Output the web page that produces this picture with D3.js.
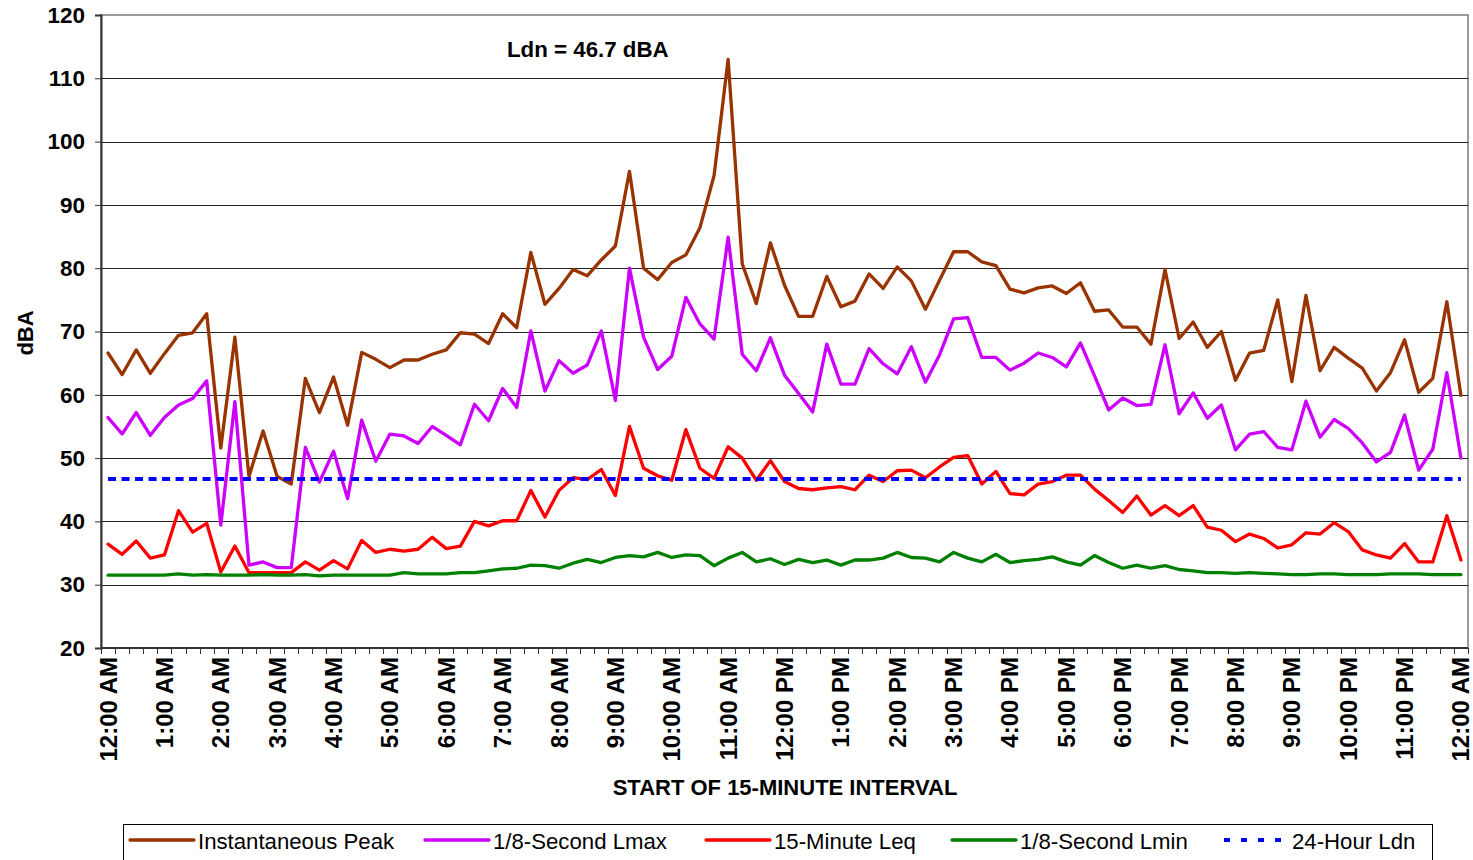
<!DOCTYPE html>
<html><head><meta charset="utf-8">
<script src="https://cdn.jsdelivr.net/npm/d3@7"></script>
<style>
body{margin:0;background:#fff}
svg{display:block;font-family:"Liberation Sans",Arial,sans-serif}
</style>
</head><body>
<svg id="c" width="1473" height="860"></svg>
<script>
// ---------------- DATA ----------------
const hourLabels = ["12:00 AM","1:00 AM","2:00 AM","3:00 AM","4:00 AM","5:00 AM","6:00 AM","7:00 AM","8:00 AM","9:00 AM","10:00 AM","11:00 AM","12:00 PM","1:00 PM","2:00 PM","3:00 PM","4:00 PM","5:00 PM","6:00 PM","7:00 PM","8:00 PM","9:00 PM","10:00 PM","11:00 PM","12:00 AM"];
const intervalsPerHour = 4;
// category = start of each 15-minute interval (97 of them, 12:00 AM to 12:00 AM next day)
const categories = d3.range(97).map(i => {
  const h = Math.floor(i / 4) % 24, m = (i % 4) * 15;
  const hh = h % 12 === 0 ? 12 : h % 12;
  return (i === 96 ? "+1 " : "") + hh + ":" + String(m).padStart(2, "0") + (h < 12 ? " AM" : " PM");
});

const instantaneousPeak = [66.6,63.2,67.1,63.4,66.5,69.4,69.8,72.8,51.6,69.1,
  47.1,54.3,47.1,45.9,62.6,57.2,62.8,55.2,66.7,65.6,
  64.3,65.5,65.5,66.4,67.1,69.8,69.6,68.1,72.8,70.6,
  82.5,74.3,76.8,79.8,78.8,81.3,83.5,95.3,80.0,78.2,
  80.9,82.1,86.4,94.6,113.0,80.7,74.4,84.0,77.3,72.4,
  72.4,78.7,73.9,74.8,79.1,76.8,80.2,78.0,73.5,78.1,
  82.6,82.6,81.0,80.4,76.7,76.1,76.9,77.2,76.0,77.7,
  73.2,73.4,70.7,70.7,68.0,79.8,68.9,71.5,67.5,70.0,
  62.3,66.6,67.0,75.0,62.1,75.7,63.8,67.5,65.8,64.2,
  60.6,63.5,68.7,60.4,62.6,74.7,59.9];

const lmax = [56.4,53.8,57.2,53.6,56.4,58.4,59.4,62.2,39.4,58.9,
  33.1,33.6,32.7,32.7,51.7,46.2,51.1,43.6,56.0,49.5,
  53.8,53.5,52.3,55.0,53.6,52.1,58.5,55.9,61.0,58.0,
  70.1,60.6,65.4,63.4,64.7,70.1,59.1,80.0,69.1,64.0,
  66.1,75.4,71.2,68.8,84.9,66.4,63.8,69.0,63.1,60.2,
  57.3,68.0,61.7,61.7,67.3,64.9,63.3,67.6,62.0,66.3,
  72.0,72.2,65.9,65.9,63.9,65.0,66.6,65.9,64.4,68.2,
  63.0,57.6,59.5,58.3,58.5,67.9,57.0,60.3,56.3,58.4,
  51.3,53.8,54.2,51.7,51.3,59.0,53.3,56.1,54.7,52.4,
  49.4,50.9,56.8,48.1,51.4,63.5,50.0];

const leq = [36.4,34.8,36.9,34.2,34.7,41.7,38.3,39.7,32.0,36.1,
  31.9,31.9,31.9,31.9,33.6,32.3,33.8,32.5,37.0,35.1,
  35.6,35.3,35.6,37.5,35.7,36.1,40.0,39.3,40.1,40.1,
  44.9,40.7,44.9,46.9,46.6,48.2,44.1,55.0,48.4,47.2,
  46.5,54.5,48.4,46.8,51.8,50.0,46.5,49.6,46.3,45.2,
  45.0,45.3,45.5,45.0,47.3,46.3,48.0,48.1,46.9,48.6,
  50.1,50.4,45.9,47.9,44.4,44.2,45.9,46.3,47.3,47.3,
  45.1,43.3,41.4,44.0,41.0,42.5,40.9,42.5,39.1,38.6,
  36.8,38.0,37.3,35.8,36.3,38.2,38.0,39.8,38.4,35.5,
  34.7,34.2,36.5,33.6,33.6,40.9,33.9];

const lmin = [31.5,31.5,31.5,31.5,31.5,31.7,31.5,31.6,31.5,31.5,
  31.5,31.6,31.5,31.5,31.6,31.4,31.5,31.5,31.5,31.5,
  31.5,31.9,31.7,31.7,31.7,31.9,31.9,32.2,32.5,32.6,
  33.1,33.0,32.6,33.4,34.0,33.5,34.3,34.6,34.4,35.1,
  34.3,34.7,34.6,33.0,34.2,35.1,33.6,34.1,33.2,34.0,
  33.5,33.9,33.1,33.9,33.9,34.2,35.1,34.3,34.2,33.6,
  35.1,34.2,33.6,34.8,33.5,33.8,34.0,34.4,33.6,33.1,
  34.6,33.5,32.6,33.1,32.6,33.0,32.4,32.2,31.9,31.9,
  31.8,31.9,31.8,31.7,31.6,31.6,31.7,31.7,31.6,31.6,
  31.6,31.7,31.7,31.7,31.6,31.6,31.6];

const ldnValue = 46.7;
const ldn = categories.map(() => ldnValue);

const yTicks = [20,30,40,50,60,70,80,90,100,110,120];

const seriesNames = ["Instantaneous Peak","1/8-Second Lmax","15-Minute Leq","1/8-Second Lmin","24-Hour Ldn"];
const seriesColors = ["#993300","#CC00FF","#FF0000","#008000","#0000FF"];
const seriesData = [instantaneousPeak, lmax, leq, lmin, ldn];

// ---------------- LAYOUT ----------------
const FONT = '"Liberation Sans",Arial,sans-serif';
const svg = d3.select("#c");
const L = 101, R = 1468, T = 15, B = 648;

const x = d3.scaleBand().domain(categories).range([L, R]).padding(0);
const bw = x.bandwidth();
const cx = c => x(c) + bw / 2;
const y = d3.scaleLinear().domain([20, 120]).range([B, T]);

// plot frame
svg.append("rect").attr("x", L).attr("y", T).attr("width", R - L).attr("height", B - T)
  .attr("fill", "#fff").attr("stroke", "#9a9a9a").attr("stroke-width", 2);

// gridlines
svg.append("g").selectAll("line").data(yTicks.filter(v => v > 20 && v < 120)).join("line")
  .attr("x1", L).attr("x2", R)
  .attr("y1", d => Math.round(y(d)) + 0.5).attr("y2", d => Math.round(y(d)) + 0.5)
  .attr("stroke", "#222").attr("stroke-width", 1);

// y axis
const yAxis = svg.append("g").attr("transform", `translate(${L},0)`)
  .call(d3.axisLeft(y).tickValues(yTicks).tickSize(6).tickPadding(10));
yAxis.select(".domain").attr("stroke", "#333").attr("stroke-width", 2);
yAxis.selectAll(".tick line").attr("stroke", "#333");
yAxis.selectAll("text").attr("font-size", "22.5px").attr("font-weight", "bold")
  .attr("fill", "#000").attr("font-family", FONT);

// x axis line + boundary ticks
svg.append("line").attr("x1", L).attr("x2", R).attr("y1", B).attr("y2", B)
  .attr("stroke", "#333").attr("stroke-width", 2);
const boundaries = categories.map(c => x(c)).concat([R]);
svg.append("g").selectAll("line").data(boundaries).join("line")
  .attr("x1", d => Math.round(d) + 0.5).attr("x2", d => Math.round(d) + 0.5)
  .attr("y1", B).attr("y2", B + 6).attr("stroke", "#333").attr("stroke-width", 1);

// x labels (every hour)
const labelCats = categories.filter((c, i) => i % intervalsPerHour === 0);
const xAxis = svg.append("g").attr("transform", `translate(0,${B})`)
  .call(d3.axisBottom(x).tickValues(labelCats).tickSize(0)
    .tickFormat((c, k) => hourLabels[k]));
xAxis.select(".domain").remove();
xAxis.selectAll("text")
  .attr("font-size", "24px").attr("font-weight", "bold").attr("fill", "#000")
  .attr("font-family", FONT)
  .attr("text-anchor", "end").attr("dy", null)
  .attr("dominant-baseline", "central")
  .attr("transform", "translate(0,9) rotate(-90)")
  .attr("x", 0).attr("y", 0);

// axis titles
svg.append("text").attr("transform", "translate(25,333) rotate(-90)")
  .attr("text-anchor", "middle").attr("dominant-baseline", "central")
  .attr("font-size", "22px").attr("font-weight", "bold").text("dBA");
svg.append("text").attr("x", 785).attr("y", 787)
  .attr("text-anchor", "middle").attr("dominant-baseline", "central")
  .attr("font-size", "22px").attr("font-weight", "bold").text("START OF 15-MINUTE INTERVAL");

// annotation
svg.append("text").attr("x", 507).attr("y", 49)
  .attr("dominant-baseline", "central")
  .attr("font-size", "22.3px").attr("font-weight", "bold").text(`Ldn = ${ldnValue} dBA`);

// series lines
const line = d3.line().x((d, i) => cx(categories[i])).y(d => y(d));
const g = svg.append("g");
seriesData.forEach((data, k) => {
  const p = g.append("path").datum(data)
    .attr("d", line).attr("fill", "none")
    .attr("stroke", seriesColors[k])
    .attr("stroke-linejoin", "round");
  if (k === 4) {
    p.attr("stroke-width", 4).attr("stroke-dasharray", "8,5.5");
  } else {
    p.attr("stroke-width", 3.3).attr("stroke-linecap", "round");
  }
});

// legend
const lg = svg.append("g");
lg.append("rect").attr("x", 123.5).attr("y", 824.5).attr("width", 1309).attr("height", 40)
  .attr("fill", "#fff").attr("stroke", "#000").attr("stroke-width", 1);
const legendX = [130, 425, 706, 952, 1224];
seriesNames.forEach((name, k) => {
  const x0 = legendX[k];
  const ln = lg.append("line").attr("x1", x0).attr("x2", x0 + 64)
    .attr("y1", 840).attr("y2", 840).attr("stroke", seriesColors[k]);
  if (k === 4) ln.attr("stroke-width", 4).attr("stroke-dasharray", "6,11").attr("x2", x0 + 62);
  else ln.attr("stroke-width", 3.3).attr("stroke-linecap", "round");
  lg.append("text").attr("x", x0 + 68).attr("y", 841)
    .attr("dominant-baseline", "central")
    .attr("font-size", "22.2px").attr("fill", "#000").text(name);
});
</script>
</body></html>
